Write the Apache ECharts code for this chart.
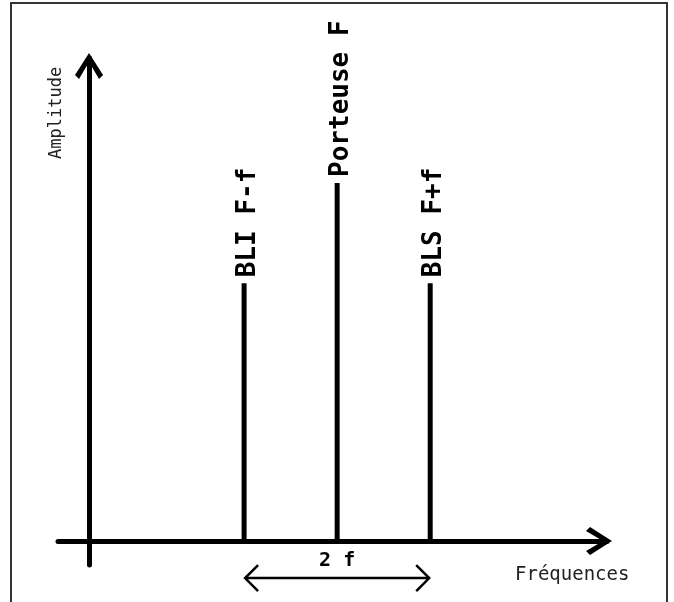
<!DOCTYPE html>
<html>
<head>
<meta charset="utf-8">
<script src="https://cdn.jsdelivr.net/npm/echarts@6/dist/echarts.min.js"></script>
<style>html,body{margin:0;padding:0;background:#fff}#chart{width:674px;height:602px}</style>
</head>
<body>
<div id="chart"></div>
<script>
// Spectrum of an AM signal: carrier F and two side bands (F = 8, f = 3 in arbitrary units)
const frequencies = [5, 8, 11];
const amplitudes = [72, 100, 72];
const lineLabels = ['BLI F-f', 'Porteuse F', 'BLS F+f'];
const spanLabel = '2 f';
const spanFrom = 5, spanTo = 11;
const xTitle = 'Fréquences';
const yTitle = 'Amplitude';

const chevron = 'path://M0,22 L14,0 L28,22 L24,26 L14,9 L4,26 Z';
const mono = '"DejaVu Sans Mono", monospace';

const chart = echarts.init(document.getElementById('chart'));
chart.setOption({
  animation: false,
  backgroundColor: '#fff',
  grid: { left: 58, top: 58, width: 549, height: 507 },
  xAxis: {
    type: 'value', min: -1, max: 16.7,
    axisLine: { onZero: true, symbol: ['none', chevron], symbolSize: [28, 26], symbolOffset: [0, -8],
      lineStyle: { color: '#000', width: 5 } },
    axisTick: { show: false }, axisLabel: { show: false }, splitLine: { show: false }
  },
  yAxis: {
    type: 'value', min: -6.7, max: 134.9,
    axisLine: { onZero: true, symbol: ['none', chevron], symbolSize: [28, 26], symbolOffset: [0, -8],
      lineStyle: { color: '#000', width: 5 } },
    axisTick: { show: false }, axisLabel: { show: false }, splitLine: { show: false }
  },
  graphic: [
    { type: 'rect', shape: { x: 11, y: 3, width: 656, height: 640 },
      style: { fill: 'none', stroke: '#333', lineWidth: 2 }, silent: true },
    { type: 'text', x: 57, y: 159, rotation: Math.PI / 2,
      style: { text: yTitle, font: '17px ' + mono, fill: '#222', align: 'left', verticalAlign: 'middle' } },
    { type: 'text', x: 515, y: 575,
      style: { text: xTitle, font: '19px ' + mono, fill: '#222', align: 'left', verticalAlign: 'middle' } }
  ],
  series: [
    {
      type: 'bar',
      barWidth: 5,
      itemStyle: { color: '#000' },
      data: frequencies.map((f, i) => ({ value: [f, amplitudes[i]], name: lineLabels[i] })),
      label: {
        show: true, position: 'top', rotate: 90, distance: 6, offset: [0, 4],
        align: 'left', verticalAlign: 'middle',
        formatter: p => p.name,
        fontFamily: mono, fontSize: 26, fontWeight: 'bold', color: '#000'
      }
    },
    {
      type: 'custom',
      clip: false,
      data: [[spanFrom, spanTo]],
      renderItem: function (params, api) {
        const a = api.coord([api.value(0), 0]);
        const b = api.coord([api.value(1), 0]);
        const y = a[1] + 37;
        const lw = 2.5;
        return {
          type: 'group',
          children: [
            { type: 'line', shape: { x1: a[0] + 1, y1: y, x2: b[0] - 1, y2: y }, style: { stroke: '#000', lineWidth: lw } },
            { type: 'polyline', shape: { points: [[a[0] + 14, y - 13], [a[0] + 1, y], [a[0] + 14, y + 13]] }, style: { stroke: '#000', lineWidth: lw, fill: null } },
            { type: 'polyline', shape: { points: [[b[0] - 14, y - 13], [b[0] - 1, y], [b[0] - 14, y + 13]] }, style: { stroke: '#000', lineWidth: lw, fill: null } },
            { type: 'text', x: (a[0] + b[0]) / 2, y: a[1] + 20,
              style: { text: spanLabel, font: 'bold 20px ' + mono, fill: '#000', align: 'center', verticalAlign: 'middle' } }
          ]
        };
      }
    }
  ]
});
</script>
</body>
</html>
